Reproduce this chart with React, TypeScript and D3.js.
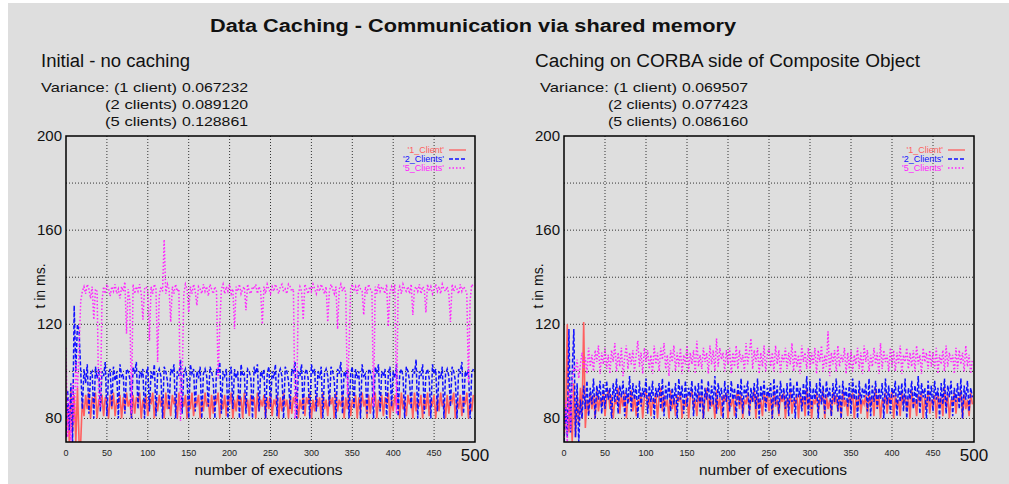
import React from "react";
import * as d3 from "d3";

const xStep = 2;
const yTicksLabeled = [80, 120, 160, 200];
const yGrid = [80, 100, 120, 140, 160, 180];
const xTicks = [0, 50, 100, 150, 200, 250, 300, 350, 400, 450];
const seriesNames = ["'1_Client'", "'2_Clients'", "'5_Clients'"];
const varianceLabels = ["Variance: (1 client)", "(2 clients)", "(5 clients)"];
const varianceLeft = ["0.067232", "0.089120", "0.128861"];
const varianceRight = ["0.069507", "0.077423", "0.086160"];

const left1 = [
  72,86,70,92,74,90,70,93,70,70,88,81,90,84,91,80,89,86,91,80,88,85,90,81,89,
  87,80,90,84,91,81,88,86,90,80,89,83,91,85,88,80,90,82,89,87,91,80,88,84,90,
  81,89,86,91,80,88,83,90,85,89,80,91,84,88,81,90,86,89,80,91,83,88,85,90,80,
  89,84,91,81,88,86,90,80,89,83,91,85,88,80,90,82,89,87,91,80,88,84,90,81,89,
  86,91,80,88,83,90,85,89,80,91,84,88,81,90,86,89,80,91,83,88,85,90,80,89,84,
  91,81,88,86,90,80,89,83,91,85,88,80,90,82,89,87,91,80,88,84,90,81,89,86,91,
  80,88,83,90,85,89,80,91,84,88,81,90,86,89,80,91,83,88,85,90,80,89,84,91,81,
  88,86,90,80,89,83,91,85,88,80,90,82,89,87,91,80,88,84,90,81,89,86,91,80,88,
  83,90,85,89,80,91,84,88,81,90,86,89,80,91,83,88,85,90,80,89,84,91,81,88,86,
  90,80,89,83,91,85,88,80,90,82,89,87,91,80,88,84,90,81,89,86,91,80,88,83,90,
];
const left2 = [
  72,92,75,95,70,128,100,120,117,100,84,101,95,103,82,99,100,80,102,97,101,83,100,98,104,
  81,99,101,85,102,96,100,80,103,98,99,82,101,100,97,80,102,99,104,84,100,98,101,80,99,
  102,83,100,97,103,81,99,101,98,80,102,100,96,84,101,99,103,80,100,98,105,82,99,101,97,
  80,103,99,101,83,100,97,102,80,99,101,98,85,102,100,96,80,101,99,104,82,100,98,101,80,
  99,102,84,101,97,100,80,103,98,99,82,101,100,97,80,102,99,103,83,100,98,101,80,99,102,
  85,100,97,103,81,99,101,98,80,102,100,96,84,101,99,104,80,100,98,103,82,99,101,97,80,
  103,99,101,83,100,97,102,80,99,101,98,85,102,100,96,80,101,99,104,82,100,98,101,80,99,
  102,84,101,97,100,80,103,98,99,82,101,100,97,80,102,99,103,83,100,98,101,80,99,102,85,
  100,97,103,81,99,101,98,80,102,100,96,84,101,99,105,80,100,98,103,82,99,101,97,80,103,
  99,101,83,100,97,102,80,99,101,98,85,102,100,96,80,101,99,104,82,100,98,101,80,99,101,
];
const left5 = [
  110,72,88,70,95,78,104,92,110,130,134,136,133,137,135,131,136,122,135,134,88,85,130,136,133,
  137,135,132,136,134,137,133,135,131,136,134,138,116,135,130,82,137,133,136,134,137,133,122,135,136,
  134,113,136,133,137,135,104,132,136,134,156,133,137,135,121,136,133,137,134,135,79,95,133,137,135,
  125,136,133,137,134,128,136,135,133,137,134,136,132,137,135,133,136,134,97,120,135,137,133,136,134,
  137,133,135,118,136,134,137,133,135,136,126,137,134,133,136,135,137,133,136,134,120,136,133,137,135,
  133,136,134,137,135,133,136,137,134,135,133,137,136,134,135,80,86,133,136,134,122,137,135,133,136,
  134,137,135,133,136,134,137,135,133,136,121,134,137,135,133,136,118,135,137,134,136,133,90,110,135,
  137,134,136,133,137,135,134,124,136,133,137,135,134,85,136,133,137,134,136,135,133,137,119,134,136,
  133,137,82,134,136,133,137,135,134,136,133,137,124,135,136,134,137,133,136,135,125,137,134,136,133,
  135,137,134,136,133,137,135,134,136,133,121,137,134,136,135,133,137,134,136,135,133,95,130,137,136,
];
const right1 = [
  72,80,120,74,88,70,95,72,90,78,93,80,121,76,88,82,91,84,90,80,92,83,89,85,91,
  81,89,92,84,90,80,88,86,93,82,90,85,91,80,89,87,92,83,90,81,88,86,91,80,89,
  92,84,90,81,88,86,91,80,89,93,83,90,85,88,80,92,84,89,81,90,87,91,80,88,85,
  90,80,89,92,84,88,81,91,86,90,80,89,93,83,90,85,88,80,92,84,89,81,90,87,91,
  80,88,85,90,81,89,92,84,90,80,88,86,91,82,89,87,93,80,90,84,88,81,91,86,90,
  83,89,80,92,85,88,81,90,87,91,80,89,84,92,82,88,86,90,80,91,85,89,81,93,84,
  90,80,88,86,91,82,89,87,92,80,90,84,88,81,91,86,90,83,89,80,92,85,88,81,90,
  87,91,80,89,84,92,82,88,86,90,80,91,85,89,81,93,84,90,80,88,86,91,82,89,87,
  92,80,90,84,88,81,91,86,90,83,89,80,92,85,88,81,90,87,91,80,89,84,92,82,88,
  86,90,80,91,85,89,81,93,84,90,80,88,86,91,82,89,87,92,80,90,84,88,81,91,86,
];
const right2 = [
  70,85,72,118,74,100,118,72,95,70,88,80,94,84,96,81,93,86,97,80,94,88,96,82,95,
  84,96,88,93,80,95,87,97,82,94,89,96,81,93,86,98,83,95,88,94,80,96,85,93,89,
  97,82,94,87,96,80,93,89,95,84,97,81,94,88,96,83,93,86,95,80,97,88,94,82,96,
  85,93,89,96,81,94,87,95,83,97,80,93,88,96,84,94,86,98,82,95,89,93,80,96,87,
  94,83,96,88,93,80,95,86,97,82,94,89,96,81,93,87,95,84,97,80,94,88,96,83,93,
  89,95,80,97,86,94,82,96,88,93,84,95,81,97,87,94,80,96,89,93,83,95,86,98,81,
  96,84,93,88,95,80,97,86,94,82,96,89,93,81,95,87,97,83,94,80,96,88,93,85,95,
  82,97,88,94,80,96,86,93,89,95,83,97,81,94,87,96,84,93,88,95,80,97,86,94,82,
  93,89,96,81,94,87,95,83,97,80,93,88,96,84,94,86,98,82,95,89,93,80,96,87,94,
  83,96,88,93,80,95,86,97,82,94,89,96,81,93,87,95,84,97,80,94,88,96,83,93,89,
];
const right5 = [
  72,88,70,92,75,95,102,100,105,97,103,108,101,106,99,110,102,107,100,109,104,111,99,108,103,
  110,101,107,99,109,104,112,100,108,102,110,98,106,111,101,108,103,109,100,107,113,102,108,99,110,
  104,109,101,107,99,111,103,108,100,110,105,112,101,107,98,109,104,111,100,108,102,110,99,107,103,
  111,100,108,103,109,99,113,102,107,101,110,104,108,99,111,103,109,100,114,102,110,105,108,100,109,
  103,110,99,108,102,111,101,109,104,107,100,112,103,108,114,101,109,104,110,99,108,102,111,100,107,
  110,102,108,100,111,103,109,99,107,104,110,101,108,103,112,100,109,102,107,99,111,104,108,101,110,
  101,108,103,110,99,109,104,111,100,107,102,117,98,108,103,109,100,111,102,107,104,110,99,108,101,
  109,100,107,103,110,101,108,99,111,104,109,100,107,102,110,103,108,99,112,101,109,104,107,100,110,
  102,109,100,108,103,111,99,107,104,110,101,108,102,109,100,111,103,107,99,110,104,108,101,109,102,
  108,101,110,99,107,103,109,100,111,102,108,104,107,99,110,101,109,103,108,100,111,102,107,99,105,
];

const colors = ["#ff5f5f", "#1010ff", "#ff22ff"];
const dashes = ["", "4,2", "1.5,2"];
const BG = "#dedede";
const FONT = "Liberation Sans, Arial, sans-serif";

type PanelProps = {
  x0: number; x1: number; yTop: number; yBot: number; id: string;
  data: number[][]; labelShift: number;
};

function Panel({ x0, x1, yTop, yBot, id, data, labelShift }: PanelProps) {
  const xs = d3.scaleLinear().domain([0, 500]).range([x0, x1]);
  const ys = d3.scaleLinear().domain([70, 200]).range([yBot, yTop]);
  const line = d3.line<number>().x((_, i) => xs(i * xStep)).y((d) => ys(d));
  const lx = x1 - 28;
  return (
    <g>
      <defs>
        <clipPath id={id}>
          <rect x={x0} y={yTop} width={x1 - x0} height={yBot - yTop} />
        </clipPath>
      </defs>
      {yGrid.map((v) => (
        <line key={"gy" + v} x1={x0} x2={x1} y1={ys(v)} y2={ys(v)} stroke="#333" strokeWidth={1} strokeDasharray="1,2" />
      ))}
      {xTicks.slice(1).map((v) => (
        <line key={"gx" + v} x1={xs(v)} x2={xs(v)} y1={yTop} y2={yBot} stroke="#333" strokeWidth={1} strokeDasharray="1,2" />
      ))}
      <g clipPath={`url(#${id})`}>
        {data.map((s, k) => (
          <path key={k} d={line(s) || ""} fill="none" stroke={colors[k]} strokeWidth={k === 0 ? 1.6 : 1.5} strokeDasharray={dashes[k]} />
        ))}
      </g>
      <rect x={x0} y={yTop} width={x1 - x0} height={yBot - yTop} fill="none" stroke="#000" strokeWidth={1.5} />
      {yTicksLabeled.map((v) => (
        <text key={"yl" + v} x={x0 - 4} y={ys(v) + 5} textAnchor="end" fontSize={15} fontFamily={FONT} fill="#111">{v}</text>
      ))}
      {xTicks.map((v) => (
        <text key={"xl" + v} x={xs(v)} y={yBot + 14} textAnchor="middle" fontSize={9} fontFamily={FONT} fill="#222">{v}</text>
      ))}
      <text x={xs(500)} y={yBot + 19} textAnchor="middle" fontSize={17} fontFamily={FONT} fill="#111">500</text>
      <text x={(x0 + x1) / 2 + labelShift} y={yBot + 33} textAnchor="middle" fontSize={15.5} fontFamily={FONT} fill="#111">number of executions</text>
      <text transform={`translate(${x0 - 21},${(yTop + yBot) / 2 - 3}) rotate(-90)`} textAnchor="middle" fontSize={14} fontFamily={FONT} fill="#111">t in ms.</text>
      {seriesNames.map((n, k) => (
        <g key={"lg" + k}>
          <text x={lx - 3} y={yTop + 17 + k * 9} textAnchor="end" fontSize={9} fontFamily={FONT} fill={colors[k]}>{n}</text>
          <line x1={lx + 2} x2={lx + 19} y1={yTop + 14 + k * 9} y2={yTop + 14 + k * 9} stroke={colors[k]} strokeWidth={1.3} strokeDasharray={dashes[k]} />
        </g>
      ))}
    </g>
  );
}

function VarianceBlock({ x, xIndent, xNum, values }: { x: number; xIndent: number; xNum: number; values: string[] }) {
  return (
    <g fontFamily={FONT} fontSize={13.5} fill="#111">
      {varianceLabels.map((lab, k) => {
        const lx = k === 0 ? x : xIndent;
        return (
          <text key={"v" + k} x={lx} y={92 + k * 17} textLength={xNum - 5 - lx} lengthAdjust="spacingAndGlyphs">{lab}</text>
        );
      })}
      {values.map((v, k) => (
        <text key={"n" + k} x={xNum} y={92 + k * 17} textLength={66} lengthAdjust="spacingAndGlyphs">{v}</text>
      ))}
    </g>
  );
}

export default function App() {
  return (
    <svg width={1001} height={481} style={{ position: "absolute", left: 8, top: 3, background: BG }}>
      <rect x={0} y={0} width={1001} height={481} fill={BG} />
      <g transform="translate(-8,-3)">
        <text x={210} y={32} fontSize={18} fontWeight="bold" fontFamily={FONT} fill="#111" textLength={526} lengthAdjust="spacingAndGlyphs">Data Caching - Communication via shared memory</text>
        <text x={41} y={67} fontSize={18} fontFamily={FONT} fill="#111" textLength={149} lengthAdjust="spacingAndGlyphs">Initial - no caching</text>
        <text x={535} y={67} fontSize={18} fontFamily={FONT} fill="#111" textLength={385} lengthAdjust="spacingAndGlyphs">Caching on CORBA side of Composite Object</text>
        <VarianceBlock x={41} xIndent={105} xNum={182} values={varianceLeft} />
        <VarianceBlock x={540} xIndent={608} xNum={682} values={varianceRight} />
        <Panel x0={66} x1={475} yTop={136} yBot={442} id="clipL" data={[left1, left2, left5]} labelShift={-2} />
        <Panel x0={564} x1={974} yTop={136} yBot={442} id="clipR" data={[right1, right2, right5]} labelShift={4} />
      </g>
    </svg>
  );
}
